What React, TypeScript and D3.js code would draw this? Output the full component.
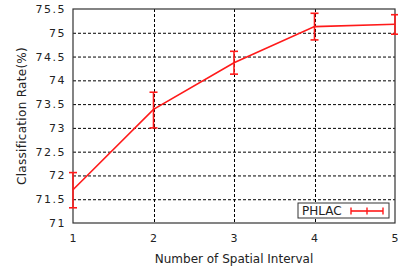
import { useEffect, useRef } from "react"
import * as d3 from "d3"

const intervals = [1, 2, 3, 4, 5]
const rates = [71.7, 73.39, 74.37, 75.13, 75.18]
const rateHigh = [72.06, 73.75, 74.61, 75.41, 75.38]
const rateLow = [71.32, 73.0, 74.13, 74.85, 74.97]
const yTicks = [71, 71.5, 72, 72.5, 73, 73.5, 74, 74.5, 75, 75.5]
const seriesName = "PHLAC"

export default function App() {
  const svgRef = useRef<SVGSVGElement>(null)

  useEffect(() => {
    if (!svgRef.current) return
    const svg = d3.select(svgRef.current)
    svg.selectAll("*").remove()

    const width = 398
    const height = 271
    const margin = { top: 9, right: 3, bottom: 48, left: 73 }
    const innerWidth = width - margin.left - margin.right
    const innerHeight = height - margin.top - margin.bottom
    const font = "DejaVu Sans"
    const red = "#ff1a1a"

    const x = d3.scaleLinear().domain([1, 5]).range([0, innerWidth])
    const y = d3.scaleLinear().domain([71, 75.5]).range([innerHeight, 0])

    const g = svg.append("g").attr("transform", `translate(${margin.left},${margin.top})`)

    // grid
    g.selectAll(".gy")
      .data(yTicks.slice(1, -1))
      .enter()
      .append("line")
      .attr("x1", 0)
      .attr("x2", innerWidth)
      .attr("y1", d => y(d) + 0.5)
      .attr("y2", d => y(d) + 0.5)
      .attr("stroke", "#000")
      .attr("stroke-width", 1)
      .attr("stroke-dasharray", "3,2")

    g.selectAll(".gx")
      .data(intervals.slice(1, -1))
      .enter()
      .append("line")
      .attr("x1", d => Math.round(x(d)) + 0.5)
      .attr("x2", d => Math.round(x(d)) + 0.5)
      .attr("y1", 0)
      .attr("y2", innerHeight)
      .attr("stroke", "#000")
      .attr("stroke-width", 1)
      .attr("stroke-dasharray", "3,2")

    g.append("rect")
      .attr("x", 0)
      .attr("y", 0)
      .attr("width", innerWidth)
      .attr("height", innerHeight)
      .attr("fill", "none")
      .attr("stroke", "#333")
      .attr("stroke-width", 1.2)

    // tick labels
    g.selectAll(".ty")
      .data(yTicks)
      .enter()
      .append("text")
      .attr("x", -7)
      .attr("y", d => y(d) + 4)
      .attr("text-anchor", "end")
      .style("font-family", font)
      .style("font-size", "11px")
      .style("letter-spacing", "1.5px")
      .attr("fill", "#222")
      .text(d => String(d))

    g.selectAll(".tx")
      .data(intervals)
      .enter()
      .append("text")
      .attr("x", d => x(d))
      .attr("y", innerHeight + 19)
      .attr("text-anchor", "middle")
      .style("font-family", font)
      .style("font-size", "11px")
      .attr("fill", "#222")
      .text(d => String(d))

    g.append("text")
      .attr("x", innerWidth / 2)
      .attr("y", innerHeight + 40)
      .attr("text-anchor", "middle")
      .style("font-family", font)
      .style("font-size", "12px")
      .attr("fill", "#222")
      .text("Number of Spatial Interval")

    svg.append("text")
      .attr("transform", `translate(26,${margin.top + innerHeight / 2}) rotate(-90)`)
      .attr("text-anchor", "middle")
      .style("font-family", font)
      .style("font-size", "12px")
      .style("letter-spacing", "0.3px")
      .attr("fill", "#222")
      .text("Classification Rate(%)")

    // line
    const line = d3.line<number>()
      .x((_, i) => x(intervals[i]))
      .y(d => y(d))
    g.append("path")
      .datum(rates)
      .attr("d", line)
      .attr("fill", "none")
      .attr("stroke", red)
      .attr("stroke-width", 1.6)

    // error bars
    const cap = 4
    intervals.forEach((v, i) => {
      const cx = x(v)
      g.append("line")
        .attr("x1", cx).attr("x2", cx)
        .attr("y1", y(rateHigh[i])).attr("y2", y(rateLow[i]))
        .attr("stroke", red).attr("stroke-width", 1.6)
      ;[rateHigh[i], rateLow[i]].forEach(val => {
        g.append("line")
          .attr("x1", cx - cap).attr("x2", cx + cap)
          .attr("y1", y(val)).attr("y2", y(val))
          .attr("stroke", red).attr("stroke-width", 1.6)
      })
    })

    // legend
    const lg = g.append("g").attr("transform", `translate(${298 - margin.left},${203 - margin.top})`)
    lg.append("rect")
      .attr("width", 91)
      .attr("height", 15)
      .attr("fill", "#fff")
      .attr("stroke", "#333")
      .attr("stroke-width", 1)
    lg.append("text")
      .attr("x", 4)
      .attr("y", 12)
      .style("font-family", font)
      .style("font-size", "12px")
      .attr("fill", "#222")
      .text(seriesName)
    const lx1 = 53
    const lx2 = 85
    lg.append("line").attr("x1", lx1).attr("x2", lx2).attr("y1", 8).attr("y2", 8)
      .attr("stroke", red).attr("stroke-width", 1.6)
    ;[lx1, (lx1 + lx2) / 2, lx2].forEach(px => {
      lg.append("line").attr("x1", px).attr("x2", px).attr("y1", 4.5).attr("y2", 11.5)
        .attr("stroke", red).attr("stroke-width", 1.4)
    })
  }, [])

  return (
    <div style={{ position: "absolute", left: 0, top: 0 }}>
      <svg ref={svgRef} width={398} height={271} style={{ display: "block" }} />
    </div>
  )
}
